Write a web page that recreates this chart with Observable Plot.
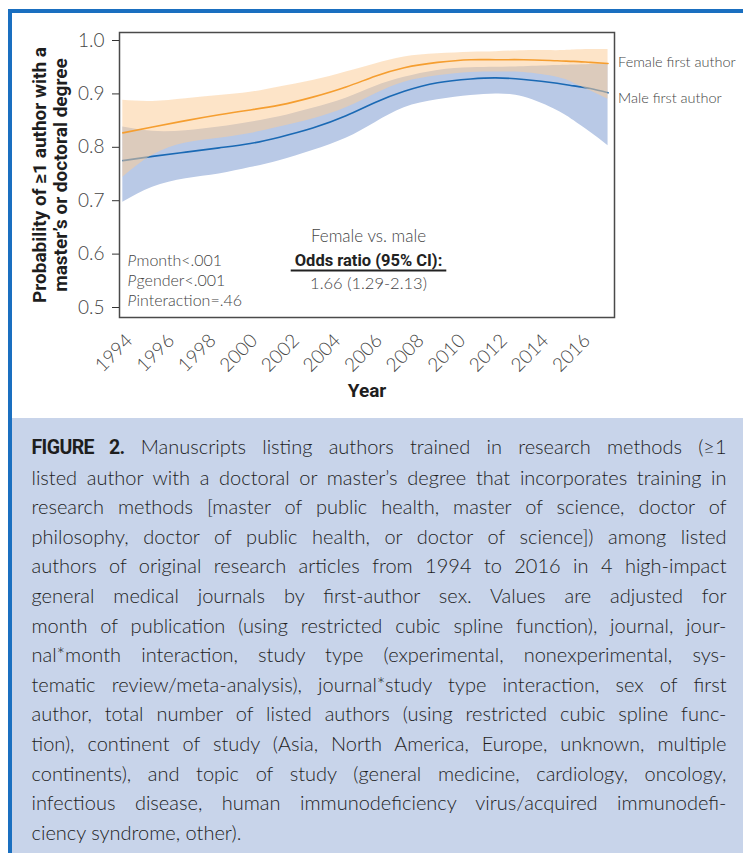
<!DOCTYPE html>
<html><head><meta charset="utf-8">
<script src="https://cdn.jsdelivr.net/npm/d3@7"></script>
<script src="https://cdn.jsdelivr.net/npm/@observablehq/plot@0.6"></script>
<style>
body{margin:0;background:#fff;}
#page{position:relative;width:743px;height:853px;overflow:hidden;background:#fff;}
#border{position:absolute;left:7.5px;top:9px;width:735.5px;height:844px;border-top:4px solid #1a6fc0;border-left:4px solid #1a6fc0;box-sizing:border-box;}
#capbg{position:absolute;left:11.5px;top:418px;right:0;bottom:0;background:#c8d4ea;}
#chart{position:absolute;left:0;top:0;}
#caption{position:absolute;left:31.5px;top:432px;width:695px;font-family:Lato,sans-serif;font-weight:300;font-size:20px;line-height:29.6px;color:#1e1e1e;}
#caption .l{text-align:justify;text-align-last:justify;}
#caption .last{text-align:left;text-align-last:left;}
#caption b{font-family:Roboto,sans-serif;font-weight:700;font-size:19.5px;letter-spacing:-0.6px;}
</style>
</head><body>
<div id="page">
  <div id="border"></div>
  <div id="capbg"></div>
  <div id="chart"></div>
  <div id="caption"></div>
</div>
<script>
// ---- data ----
const years      = [1993.87, 1995.3, 1996.9, 1998.5, 2000, 2001.4, 2003, 2004.6, 2006, 2007.4, 2009, 2010.6, 2011.8, 2013.15, 2014.75, 2015.55, 2016.35, 2017.2];
const femaleFit  = [0.827, 0.838, 0.850, 0.861, 0.870, 0.879, 0.894, 0.913, 0.933, 0.949, 0.959, 0.964, 0.964, 0.964, 0.962, 0.961, 0.959, 0.957];
const femaleLow  = [0.744, 0.785, 0.808, 0.817, 0.826, 0.838, 0.853, 0.874, 0.900, 0.922, 0.934, 0.940, 0.941, 0.940, 0.931, 0.920, 0.906, 0.890];
const femaleHigh = [0.888, 0.886, 0.891, 0.897, 0.903, 0.913, 0.925, 0.941, 0.956, 0.969, 0.975, 0.978, 0.979, 0.981, 0.981, 0.982, 0.983, 0.983];
const maleFit    = [0.775, 0.783, 0.791, 0.799, 0.807, 0.819, 0.836, 0.859, 0.884, 0.905, 0.921, 0.928, 0.930, 0.927, 0.920, 0.915, 0.910, 0.902];
const maleLow    = [0.697, 0.725, 0.741, 0.750, 0.762, 0.775, 0.794, 0.817, 0.846, 0.874, 0.889, 0.897, 0.900, 0.894, 0.869, 0.850, 0.828, 0.803];
const maleHigh   = [0.838, 0.830, 0.831, 0.838, 0.847, 0.857, 0.873, 0.892, 0.914, 0.931, 0.944, 0.949, 0.950, 0.951, 0.953, 0.954, 0.955, 0.956];
const seriesNames = ["Female first author", "Male first author"];
const yTicks = [0.5, 0.6, 0.7, 0.8, 0.9, 1.0];
const xTicks = [1994, 1996, 1998, 2000, 2002, 2004, 2006, 2008, 2010, 2012, 2014, 2016];
const yTitle = "Probability of \u22651 author with a\nmaster\u2019s or doctoral degree";
const xTitle = "Year";
const pStats = ["month<.001", "gender<.001", "interaction=.46"];
const orLines = ["Female vs. male", "Odds ratio (95% CI):", "1.66 (1.29-2.13)"];
const captionLines = [
  "Manuscripts listing authors trained in research methods (\u22651",
  "listed author with a doctoral or master\u2019s degree that incorporates training in",
  "research methods [master of public health, master of science, doctor of",
  "philosophy, doctor of public health, or doctor of science]) among listed",
  "authors of original research articles from 1994 to 2016 in 4 high-impact",
  "general medical journals by first-author sex. Values are adjusted for",
  "month of publication (using restricted cubic spline function), journal, jour-",
  "nal*month interaction, study type (experimental, nonexperimental, sys-",
  "tematic review/meta-analysis), journal*study type interaction, sex of first",
  "author, total number of listed authors (using restricted cubic spline func-",
  "tion), continent of study (Asia, North America, Europe, unknown, multiple",
  "continents), and topic of study (general medicine, cardiology, oncology,",
  "infectious disease, human immunodeficiency virus/acquired immunodefi-",
  "ciency syndrome, other)."
];
const figLabel = "FIGURE 2.";

// ---- build tables ----
const rows = (name, fit, lo, hi) => years.map((y, i) => ({year: y, fit: fit[i], low: lo[i], high: hi[i], name}));
const female = rows(seriesNames[0], femaleFit, femaleLow, femaleHigh);
const male = rows(seriesNames[1], maleFit, maleLow, maleHigh);
const curve = "natural";
const light = {fontFamily: "Lato", fontWeight: 300, fill: "#444"};
const bold = {fontFamily: "Roboto", fontWeight: 700, fill: "#1e1e1e"};

const chart = Plot.plot({
  width: 743, height: 418,
  marginLeft: 119, marginRight: 129, marginTop: 32, marginBottom: 101,
  style: {background: "transparent", color: "#444", fontFamily: "Lato", overflow: "visible"},
  x: {domain: [1993.71, 2017.51]},
  y: {domain: [0.4813, 1.015]},
  marks: [
    Plot.areaY(male, {x: "year", y1: "low", y2: "high", fill: "#b9c9e6", curve}),
    Plot.lineY(male, {x: "year", y: "fit", stroke: "#1a69b4", strokeWidth: 1.6, curve}),
    Plot.areaY(female, {x: "year", y1: "low", y2: "high", fill: "#fbcc97", fillOpacity: 0.53, curve}),
    Plot.lineY(female, {x: "year", y: "fit", stroke: "#f59e30", strokeWidth: 1.6, curve}),
    Plot.frame({stroke: "#4a4a4a", strokeWidth: 1.5}),
    Plot.axisY({ticks: yTicks, tickSize: 7, tickPadding: 8, tickFormat: d => d.toFixed(1), fontSize: 19, label: null, ...light, stroke: "#333"}),
    Plot.axisX({ticks: xTicks, tickSize: 0, tickPadding: 20, tickRotate: -45, dx: 4, tickFormat: d => String(d), fontSize: 19, label: null, ...light}),
    Plot.text([yTitle], {frameAnchor: "left", textAnchor: "middle", rotate: -90, dx: -70, fontSize: 19, lineHeight: 1.15, ...bold}),
    Plot.text([xTitle], {frameAnchor: "bottom", dy: 79, fontSize: 19, ...bold}),
    Plot.text([female[female.length - 1]], {x: "year", y: "fit", text: "name", textAnchor: "start", dx: 10, dy: -1, fontSize: 14.5, ...light}),
    Plot.text([male[male.length - 1]], {x: "year", y: "fit", text: "name", textAnchor: "start", dx: 10, dy: 6, fontSize: 14.5, ...light}),
    Plot.text([pStats.map(() => "P").join("\n")], {frameAnchor: "bottom-left", textAnchor: "start", lineAnchor: "bottom", dx: 8, dy: -12, fontSize: 16, lineHeight: 1.25, fontStyle: "italic", ...light}),
    Plot.text([pStats.join("\n")], {frameAnchor: "bottom-left", textAnchor: "start", lineAnchor: "bottom", dx: 17, dy: -12, fontSize: 16, lineHeight: 1.25, ...light}),
    Plot.text([orLines[0]], {frameAnchor: "bottom", dx: 1.5, dy: -76, fontSize: 17, ...light}),
    Plot.text([orLines[1]], {frameAnchor: "bottom", dx: 1.5, dy: -52, fontSize: 16.5, ...bold, fill: "#222"}),
    Plot.text([orLines[2]], {frameAnchor: "bottom", dx: 1.5, dy: -29, fontSize: 16.5, ...light})
  ]
});
document.getElementById("chart").appendChild(chart);

// underline under the odds-ratio heading, sized from its text box
const svgBox = chart.getBoundingClientRect();
d3.select(chart).selectAll("text").each(function() {
  if (this.textContent === orLines[1]) {
    const b = this.getBoundingClientRect();
    d3.select(chart).append("line")
      .attr("x1", b.left - svgBox.left - 4).attr("x2", b.right - svgBox.left + 4)
      .attr("y1", b.bottom - svgBox.top + 1).attr("y2", b.bottom - svgBox.top + 1)
      .attr("stroke", "#222").attr("stroke-width", 2);
  }
});

// caption
const cap = d3.select("#caption");
captionLines.forEach((t, i) => {
  const div = cap.append("div").attr("class", i === captionLines.length - 1 ? "last" : "l");
  if (i === 0) { div.append("b").text(figLabel); div.append("span").text(" " + t); }
  else div.text(t);
});
</script>
</body></html>
